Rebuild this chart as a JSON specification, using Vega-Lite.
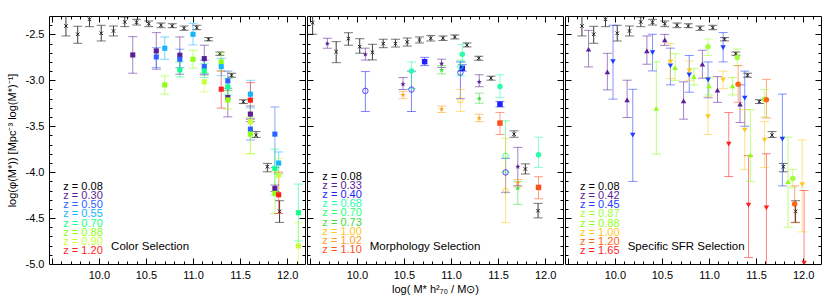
{
"$schema": "https://vega.github.io/schema/vega-lite/v6.json",
"padding": {"left": 5, "top": 15, "right": 5, "bottom": 0},
"background": "white",
"config": {
  "view": {"stroke": "#000", "strokeWidth": 1},
  "concat": {"spacing": 0},
  "font": "Liberation Sans",
  "axis": {"domain": false, "grid": false, "tickColor": "#000", "tickWidth": 1, "labelColor": "#000", "labelFont": "Liberation Sans", "labelFontSize": 11, "labelFlush": false, "labelOverlap": false, "titleFont": "Liberation Sans", "titleFontSize": 11, "titleFontWeight": "normal", "titleColor": "#000", "minExtent": 0}
},
"datasets": {
"ref": [
{"g":"A","x":9.65,"y":-2.409,"lo":-2.517,"hi":-2.29},
{"g":"A","x":9.775,"y":-2.499,"lo":-2.597,"hi":-2.412},
{"g":"A","x":9.9,"y":-2.336,"lo":-2.416,"hi":-2.29},
{"g":"A","x":10.025,"y":-2.488,"lo":-2.572,"hi":-2.401},
{"g":"A","x":10.155,"y":-2.463,"lo":-2.517,"hi":-2.409},
{"g":"A","x":10.275,"y":-2.365,"lo":-2.416,"hi":-2.311},
{"g":"A","x":10.4,"y":-2.368,"lo":-2.398,"hi":-2.336},
{"g":"A","x":10.53,"y":-2.384,"lo":-2.416,"hi":-2.354},
{"g":"A","x":10.66,"y":-2.401,"lo":-2.427,"hi":-2.376},
{"g":"A","x":10.78,"y":-2.409,"lo":-2.427,"hi":-2.384},
{"g":"A","x":10.905,"y":-2.434,"lo":-2.456,"hi":-2.409},
{"g":"A","x":11.04,"y":-2.427,"lo":-2.449,"hi":-2.401},
{"g":"A","x":11.165,"y":-2.553,"lo":-2.571,"hi":-2.535},
{"g":"A","x":11.285,"y":-2.71,"lo":-2.728,"hi":-2.692},
{"g":"A","x":11.41,"y":-2.945,"lo":-2.967,"hi":-2.923},
{"g":"A","x":11.535,"y":-3.232,"lo":-3.253,"hi":-3.212},
{"g":"A","x":11.67,"y":-3.597,"lo":-3.623,"hi":-3.558},
{"g":"A","x":11.79,"y":-3.941,"lo":-3.996,"hi":-3.905},
{"g":"A","x":11.92,"y":-4.427,"lo":-4.547,"hi":-4.311},
{"g":"B","x":9.53,"y":-2.373,"lo":-2.499,"hi":-2.29},
{"g":"B","x":9.78,"y":-2.688,"lo":-2.808,"hi":-2.579},
{"g":"B","x":9.91,"y":-2.547,"lo":-2.618,"hi":-2.482},
{"g":"B","x":10.03,"y":-2.634,"lo":-2.705,"hi":-2.547},
{"g":"B","x":10.165,"y":-2.695,"lo":-2.778,"hi":-2.608},
{"g":"B","x":10.28,"y":-2.601,"lo":-2.645,"hi":-2.553},
{"g":"B","x":10.41,"y":-2.601,"lo":-2.638,"hi":-2.553},
{"g":"B","x":10.535,"y":-2.583,"lo":-2.627,"hi":-2.54},
{"g":"B","x":10.665,"y":-2.561,"lo":-2.594,"hi":-2.528},
{"g":"B","x":10.785,"y":-2.542,"lo":-2.572,"hi":-2.513},
{"g":"B","x":10.915,"y":-2.542,"lo":-2.567,"hi":-2.517},
{"g":"B","x":11.04,"y":-2.528,"lo":-2.55,"hi":-2.506},
{"g":"B","x":11.17,"y":-2.615,"lo":-2.637,"hi":-2.593},
{"g":"B","x":11.295,"y":-2.76,"lo":-2.782,"hi":-2.738},
{"g":"B","x":11.425,"y":-2.977,"lo":-2.999,"hi":-2.955},
{"g":"B","x":11.67,"y":-3.586,"lo":-3.62,"hi":-3.55},
{"g":"B","x":11.79,"y":-3.966,"lo":-4.02,"hi":-3.91},
{"g":"B","x":11.925,"y":-4.42,"lo":-4.498,"hi":-4.34}
],
"pts": [
{"p":1,"s":"1:0.30","m":"sq","x":10.36,"y":-2.724,"lo":-2.923,"hi":-2.525},
{"p":1,"s":"1:0.30","m":"sq","x":10.61,"y":-2.68,"lo":-2.879,"hi":-2.481},
{"p":1,"s":"1:0.50","m":"sq","x":10.61,"y":-2.746,"lo":-2.862,"hi":-2.645},
{"p":1,"s":"1:0.55","m":"sq","x":10.7,"y":-2.651,"lo":-2.771,"hi":-2.528},
{"p":1,"s":"1:0.88","m":"sq","x":10.7,"y":-3.05,"lo":-3.151,"hi":-2.952},
{"p":1,"s":"1:0.30","m":"sq","x":10.86,"y":-2.727,"lo":-2.934,"hi":-2.528},
{"p":1,"s":"1:0.50","m":"sq","x":10.86,"y":-2.771,"lo":-2.862,"hi":-2.662},
{"p":1,"s":"1:0.70","m":"sq","x":10.86,"y":-2.887,"lo":-2.963,"hi":-2.8},
{"p":1,"s":"1:0.55","m":"sq","x":11.0,"y":-2.499,"lo":-2.615,"hi":-2.379},
{"p":1,"s":"1:0.88","m":"sq","x":11.0,"y":-2.771,"lo":-2.868,"hi":-2.673},
{"p":1,"s":"1:0.30","m":"sq","x":11.12,"y":-2.764,"lo":-2.941,"hi":-2.618},
{"p":1,"s":"1:0.50","m":"sq","x":11.12,"y":-2.851,"lo":-2.93,"hi":-2.78},
{"p":1,"s":"1:0.70","m":"sq","x":11.12,"y":-2.898,"lo":-2.97,"hi":-2.82},
{"p":1,"s":"1:0.90","m":"sq","x":11.12,"y":-3.017,"lo":-3.126,"hi":-2.916},
{"p":1,"s":"1:0.88","m":"sq","x":11.3,"y":-2.8,"lo":-2.9,"hi":-2.7},
{"p":1,"s":"1:0.55","m":"sq","x":11.3,"y":-2.851,"lo":-2.95,"hi":-2.76},
{"p":1,"s":"1:1.20","m":"sq","x":11.3,"y":-3.097,"lo":-3.303,"hi":-2.898},
{"p":1,"s":"1:0.50","m":"sq","x":11.37,"y":-3.007,"lo":-3.11,"hi":-2.9},
{"p":1,"s":"1:0.70","m":"sq","x":11.37,"y":-3.072,"lo":-3.16,"hi":-2.98},
{"p":1,"s":"1:0.30","m":"sq","x":11.37,"y":-3.188,"lo":-3.398,"hi":-3.086},
{"p":1,"s":"1:0.88","m":"sq","x":11.37,"y":-3.213,"lo":-3.314,"hi":-3.115},
{"p":1,"s":"1:0.55","m":"sq","x":11.61,"y":-3.151,"lo":-3.3,"hi":-3.0},
{"p":1,"s":"1:1.20","m":"sq","x":11.61,"y":-3.216,"lo":-3.423,"hi":-3.025},
{"p":1,"s":"1:0.30","m":"sq","x":11.61,"y":-3.368,"lo":-3.45,"hi":-3.28},
{"p":1,"s":"1:0.50","m":"sq","x":11.61,"y":-3.532,"lo":-3.65,"hi":-3.42},
{"p":1,"s":"1:0.88","m":"sq","x":11.61,"y":-3.586,"lo":-3.8,"hi":-3.4},
{"p":1,"s":"1:0.90","m":"sq","x":11.61,"y":-3.45,"lo":-3.8,"hi":-3.2},
{"p":1,"s":"1:0.50","m":"sq","x":11.87,"y":-3.586,"lo":-3.95,"hi":-3.29},
{"p":1,"s":"1:0.70","m":"sq","x":11.87,"y":-3.96,"lo":-4.25,"hi":-3.75},
{"p":1,"s":"1:0.55","m":"sq","x":11.91,"y":-3.901,"lo":-4.02,"hi":-3.78},
{"p":1,"s":"1:0.30","m":"sq","x":11.87,"y":-4.177,"lo":-4.21,"hi":-4.14},
{"p":1,"s":"1:0.88","m":"sq","x":11.87,"y":-4.231,"lo":-4.45,"hi":-4.0},
{"p":1,"s":"1:1.20","m":"sq","x":11.91,"y":-4.246,"lo":-4.45,"hi":-4.0},
{"p":1,"s":"1:0.90","m":"sq","x":11.91,"y":-4.032,"lo":-4.25,"hi":-3.85},
{"p":1,"s":"1:0.70","m":"sq","x":12.12,"y":-4.441,"lo":-4.75,"hi":-4.13},
{"p":1,"s":"1:0.90","m":"sq","x":12.12,"y":-4.803,"lo":-5.1,"hi":-4.55},
{"p":2,"s":"2:0.33","m":"st","x":9.686,"y":-2.601,"lo":-2.651,"hi":-2.542},
{"p":2,"s":"2:0.33","m":"st","x":10.09,"y":-2.717,"lo":-2.78,"hi":-2.65},
{"p":2,"s":"2:0.33","m":"st","x":10.49,"y":-3.043,"lo":-3.1,"hi":-2.97},
{"p":2,"s":"2:0.33","m":"st","x":10.9,"y":-2.818,"lo":-2.86,"hi":-2.77},
{"p":2,"s":"2:0.33","m":"st","x":11.3,"y":-3.017,"lo":-3.07,"hi":-2.94},
{"p":2,"s":"2:0.33","m":"st","x":11.71,"y":-3.941,"lo":-4.148,"hi":-3.73},
{"p":2,"s":"2:1.02","m":"st","x":10.49,"y":-3.159,"lo":-3.2,"hi":-3.12},
{"p":2,"s":"2:1.02","m":"st","x":10.9,"y":-3.314,"lo":-3.35,"hi":-3.28},
{"p":2,"s":"2:1.02","m":"st","x":11.3,"y":-3.412,"lo":-3.45,"hi":-3.37},
{"p":2,"s":"2:1.02","m":"st","x":11.71,"y":-4.118,"lo":-4.16,"hi":-4.08},
{"p":2,"s":"2:0.73","m":"st","x":10.9,"y":-2.887,"lo":-2.93,"hi":-2.84},
{"p":2,"s":"2:0.73","m":"st","x":11.3,"y":-3.199,"lo":-3.25,"hi":-3.14},
{"p":2,"s":"2:0.73","m":"st","x":11.71,"y":-4.177,"lo":-4.35,"hi":-4.1},
{"p":2,"s":"2:0.40","m":"sq","x":10.72,"y":-2.797,"lo":-2.84,"hi":-2.75},
{"p":2,"s":"2:0.40","m":"sq","x":11.12,"y":-2.869,"lo":-2.9,"hi":-2.83},
{"p":2,"s":"2:0.40","m":"sq","x":11.52,"y":-3.26,"lo":-3.29,"hi":-3.23},
{"p":2,"s":"2:0.40","m":"oc","x":10.09,"y":-3.115,"lo":-3.34,"hi":-2.905},
{"p":2,"s":"2:0.40","m":"oc","x":10.58,"y":-3.101,"lo":-3.34,"hi":-2.9},
{"p":2,"s":"2:0.40","m":"oc","x":11.1,"y":-2.916,"lo":-3.2,"hi":-2.8},
{"p":2,"s":"2:0.40","m":"oc","x":11.58,"y":-4.003,"lo":-4.22,"hi":-3.85},
{"p":2,"s":"2:0.68","m":"ci","x":10.58,"y":-2.898,"lo":-3.09,"hi":-2.8},
{"p":2,"s":"2:0.68","m":"ci","x":11.12,"y":-2.717,"lo":-2.8,"hi":-2.61},
{"p":2,"s":"2:0.68","m":"ci","x":11.52,"y":-3.068,"lo":-3.19,"hi":-2.94},
{"p":2,"s":"2:0.68","m":"ci","x":11.93,"y":-3.811,"lo":-3.95,"hi":-3.62},
{"p":2,"s":"2:0.70","m":"oc","x":11.1,"y":-2.851,"lo":-2.95,"hi":-2.78},
{"p":2,"s":"2:0.70","m":"oc","x":11.58,"y":-3.822,"lo":-4.0,"hi":-3.44},
{"p":2,"s":"2:1.00","m":"oc","x":11.1,"y":-3.216,"lo":-3.34,"hi":-3.1},
{"p":2,"s":"2:1.00","m":"oc","x":11.58,"y":-4.202,"lo":-4.55,"hi":-3.63},
{"p":2,"s":"2:1.10","m":"sq","x":11.52,"y":-3.466,"lo":-3.59,"hi":-3.35},
{"p":2,"s":"2:1.10","m":"sq","x":11.93,"y":-4.166,"lo":-4.29,"hi":-4.05},
{"p":3,"s":"3:0.42","m":"tu","x":9.72,"y":-2.662,"lo":-2.854,"hi":-2.456},
{"p":3,"s":"3:0.42","m":"tu","x":9.92,"y":-2.909,"lo":-3.104,"hi":-2.706},
{"p":3,"s":"3:0.42","m":"tu","x":10.13,"y":-3.213,"lo":-3.405,"hi":-2.999},
{"p":3,"s":"3:0.42","m":"tu","x":10.34,"y":-2.68,"lo":-2.825,"hi":-2.517},
{"p":3,"s":"3:0.42","m":"tu","x":10.53,"y":-2.561,"lo":-2.62,"hi":-2.5},
{"p":3,"s":"3:0.42","m":"tu","x":10.73,"y":-3.224,"lo":-3.423,"hi":-3.017},
{"p":3,"s":"3:0.42","m":"tu","x":10.93,"y":-2.825,"lo":-2.977,"hi":-2.673},
{"p":3,"s":"3:0.42","m":"tu","x":11.09,"y":-3.108,"lo":-3.24,"hi":-2.96},
{"p":3,"s":"3:0.42","m":"tu","x":11.33,"y":-3.26,"lo":-3.46,"hi":-3.05},
{"p":3,"s":"3:0.45","m":"td","x":9.98,"y":-2.797,"lo":-3.205,"hi":-2.401},
{"p":3,"s":"3:0.45","m":"td","x":10.19,"y":-3.597,"lo":-4.101,"hi":-3.098},
{"p":3,"s":"3:0.45","m":"td","x":10.4,"y":-2.699,"lo":-2.898,"hi":-2.499},
{"p":3,"s":"3:0.45","m":"td","x":10.59,"y":-2.843,"lo":-3.05,"hi":-2.65},
{"p":3,"s":"3:0.45","m":"td","x":10.79,"y":-2.941,"lo":-3.13,"hi":-2.73},
{"p":3,"s":"3:0.45","m":"td","x":10.99,"y":-2.996,"lo":-3.19,"hi":-2.8},
{"p":3,"s":"3:0.45","m":"td","x":11.15,"y":-2.645,"lo":-2.8,"hi":-2.48},
{"p":3,"s":"3:0.45","m":"td","x":11.38,"y":-3.195,"lo":-3.5,"hi":-2.9},
{"p":3,"s":"3:0.45","m":"td","x":11.78,"y":-3.64,"lo":-4.15,"hi":-3.15},
{"p":3,"s":"3:0.88","m":"tu","x":10.44,"y":-3.307,"lo":-3.803,"hi":-2.8},
{"p":3,"s":"3:0.88","m":"tu","x":10.64,"y":-2.862,"lo":-3.0,"hi":-2.71},
{"p":3,"s":"3:0.88","m":"tu","x":10.84,"y":-2.96,"lo":-3.05,"hi":-2.87},
{"p":3,"s":"3:0.88","m":"tu","x":11.0,"y":-3.061,"lo":-3.16,"hi":-2.97},
{"p":3,"s":"3:0.88","m":"tu","x":11.25,"y":-3.061,"lo":-3.16,"hi":-2.97},
{"p":3,"s":"3:0.88","m":"tu","x":11.44,"y":-3.811,"lo":-4.1,"hi":-3.32},
{"p":3,"s":"3:0.88","m":"tu","x":11.84,"y":-4.104,"lo":-4.6,"hi":-3.62},
{"p":3,"s":"3:0.87","m":"ci","x":10.99,"y":-2.634,"lo":-2.73,"hi":-2.55},
{"p":3,"s":"3:0.87","m":"ci","x":11.3,"y":-2.753,"lo":-2.84,"hi":-2.66},
{"p":3,"s":"3:0.87","m":"ci","x":11.59,"y":-3.206,"lo":-3.4,"hi":-3.1},
{"p":3,"s":"3:0.87","m":"ci","x":11.89,"y":-4.068,"lo":-4.17,"hi":-3.97},
{"p":3,"s":"3:1.00","m":"td","x":10.59,"y":-2.8,"lo":-2.98,"hi":-2.6},
{"p":3,"s":"3:1.00","m":"td","x":10.79,"y":-2.898,"lo":-3.0,"hi":-2.79},
{"p":3,"s":"3:1.00","m":"td","x":10.99,"y":-3.395,"lo":-3.59,"hi":-3.18},
{"p":3,"s":"3:1.00","m":"td","x":11.15,"y":-2.996,"lo":-3.09,"hi":-2.9},
{"p":3,"s":"3:1.00","m":"td","x":11.38,"y":-3.543,"lo":-3.97,"hi":-3.32},
{"p":3,"s":"3:1.00","m":"td","x":11.59,"y":-3.651,"lo":-3.95,"hi":-3.45},
{"p":3,"s":"3:1.00","m":"td","x":11.99,"y":-4.137,"lo":-4.65,"hi":-3.65},
{"p":3,"s":"3:1.20","m":"ci","x":11.31,"y":-3.043,"lo":-3.24,"hi":-2.84},
{"p":3,"s":"3:1.20","m":"ci","x":11.61,"y":-3.213,"lo":-3.41,"hi":-2.99},
{"p":3,"s":"3:1.20","m":"ci","x":11.91,"y":-4.347,"lo":-4.55,"hi":-4.15},
{"p":3,"s":"3:1.65","m":"td","x":11.21,"y":-3.695,"lo":-4.047,"hi":-3.351},
{"p":3,"s":"3:1.65","m":"td","x":11.42,"y":-4.358,"lo":-4.93,"hi":-3.82},
{"p":3,"s":"3:1.65","m":"td","x":11.61,"y":-4.39,"lo":-5.1,"hi":-3.8},
{"p":3,"s":"3:1.65","m":"td","x":12.01,"y":-4.99,"lo":-5.1,"hi":-4.2}
],
"leg": [
{"p":1,"s":"1:0.08","t":"z = 0.08","x":9.622,"y":-4.16},
{"p":1,"s":"1:0.30","t":"z = 0.30","x":9.622,"y":-4.26},
{"p":1,"s":"1:0.50","t":"z = 0.50","x":9.622,"y":-4.36},
{"p":1,"s":"1:0.55","t":"z = 0.55","x":9.622,"y":-4.46},
{"p":1,"s":"1:0.70","t":"z = 0.70","x":9.622,"y":-4.56},
{"p":1,"s":"1:0.88","t":"z = 0.88","x":9.622,"y":-4.66},
{"p":1,"s":"1:0.90","t":"z = 0.90","x":9.622,"y":-4.76},
{"p":1,"s":"1:1.20","t":"z = 1.20","x":9.622,"y":-4.86},
{"p":2,"s":"2:0.08","t":"z = 0.08","x":9.633,"y":-4.05},
{"p":2,"s":"2:0.33","t":"z = 0.33","x":9.633,"y":-4.15},
{"p":2,"s":"2:0.40","t":"z = 0.40","x":9.633,"y":-4.25},
{"p":2,"s":"2:0.68","t":"z = 0.68","x":9.633,"y":-4.35},
{"p":2,"s":"2:0.70","t":"z = 0.70","x":9.633,"y":-4.45},
{"p":2,"s":"2:0.73","t":"z = 0.73","x":9.633,"y":-4.55},
{"p":2,"s":"2:1.00","t":"z = 1.00","x":9.633,"y":-4.65},
{"p":2,"s":"2:1.02","t":"z = 1.02","x":9.633,"y":-4.75},
{"p":2,"s":"2:1.10","t":"z = 1.10","x":9.633,"y":-4.85},
{"p":3,"s":"3:0.08","t":"z = 0.08","x":9.63,"y":-4.16},
{"p":3,"s":"3:0.42","t":"z = 0.42","x":9.63,"y":-4.26},
{"p":3,"s":"3:0.45","t":"z = 0.45","x":9.63,"y":-4.36},
{"p":3,"s":"3:0.87","t":"z = 0.87","x":9.63,"y":-4.46},
{"p":3,"s":"3:0.88","t":"z = 0.88","x":9.63,"y":-4.56},
{"p":3,"s":"3:1.00","t":"z = 1.00","x":9.63,"y":-4.66},
{"p":3,"s":"3:1.20","t":"z = 1.20","x":9.63,"y":-4.76},
{"p":3,"s":"3:1.65","t":"z = 1.65","x":9.63,"y":-4.86}
],
"ttl": [
{"p":1,"t":"Color Selection","x":10.13,"y":-4.818},
{"p":2,"t":"Morphology Selection","x":10.137,"y":-4.818},
{"p":3,"t":"Specific SFR Selection","x":10.136,"y":-4.818}
]
},
"hconcat": [
{
 "width": 256, "height": 248,
 "resolve": {"axis": {"x": "independent", "y": "independent"}},
 "layer": [
  {"data": {"name": "ref"}, "transform": [{"filter": "datum.g == 'A'"}],
   "mark": {"type": "rule", "color": "#3c3c3c", "strokeWidth": 1, "clip": true},
   "encoding": {
    "x": {"field": "x", "type": "quantitative", "scale": {"domain": [9.47, 12.19], "nice": false, "zero": false},
     "axis": {"orient": "bottom", "values": [10, 10.5, 11, 11.5, 12], "format": ".1f", "ticks": false, "labelPadding": 5, "title": null}},
    "y": {"field": "lo", "type": "quantitative", "scale": {"domain": [-5.0, -2.3], "nice": false, "zero": false},
     "axis": {"orient": "left", "values": [-5, -4.5, -4, -3.5, -3, -2.5], "labelExpr": "replace(format(datum.value,'.1f'),'\u2212','-')", "ticks": false, "labelPadding": 5, "title": "log(\u03c6(M*))  [Mpc\u207b\u00b3 log(M*)\u207b\u00b9]", "titlePadding": 8}},
    "y2": {"field": "hi"}
   }},
  {"data": {"name": "ref"}, "transform": [{"filter": "datum.g == 'A'"}],
   "mark": {"type": "tick", "orient": "horizontal", "size": 9, "thickness": 1, "color": "#3c3c3c", "clip": true},
   "encoding": {
    "x": {"field": "x", "type": "quantitative", "scale": {"domain": [9.47, 12.19], "nice": false, "zero": false},
     "axis": {"orient": "bottom", "values": [9.5, 10, 10.5, 11, 11.5, 12], "labels": false, "tickSize": -6, "title": null}},
    "y": {"field": "lo", "type": "quantitative", "scale": {"domain": [-5.0, -2.3], "nice": false, "zero": false},
     "axis": {"orient": "left", "values": [-4.5, -4, -3.5, -3, -2.5], "labels": false, "tickSize": -6, "title": null}}
   }},
  {"data": {"name": "ref"}, "transform": [{"filter": "datum.g == 'A'"}],
   "mark": {"type": "tick", "orient": "horizontal", "size": 9, "thickness": 1, "color": "#3c3c3c", "clip": true},
   "encoding": {
    "x": {"field": "x", "type": "quantitative", "scale": {"domain": [9.47, 12.19], "nice": false, "zero": false},
     "axis": {"orient": "bottom", "values": [9.6,9.7,9.8,9.9,10.1,10.2,10.3,10.4,10.6,10.7,10.8,10.9,11.1,11.2,11.3,11.4,11.6,11.7,11.8,11.9,12.1], "labels": false, "tickSize": -3, "title": null}},
    "y": {"field": "hi", "type": "quantitative", "scale": {"domain": [-5.0, -2.3], "nice": false, "zero": false},
     "axis": {"orient": "left", "values": [-4.9,-4.8,-4.7,-4.6,-4.4,-4.3,-4.2,-4.1,-3.9,-3.8,-3.7,-3.6,-3.4,-3.3,-3.2,-3.1,-2.9,-2.8,-2.7,-2.6,-2.4], "labels": false, "tickSize": -3, "title": null}}
   }},
  {"data": {"name": "ref"}, "transform": [{"filter": "datum.g == 'A'"}],
   "mark": {"type": "point", "shape": "M-1,-1L1,1M-1,1L1,-1", "filled": false, "size": 12, "strokeWidth": 1, "color": "#202020", "opacity": 1, "clip": true},
   "encoding": {
    "x": {"field": "x", "type": "quantitative", "scale": {"domain": [9.47, 12.19], "nice": false, "zero": false},
     "axis": {"orient": "top", "values": [9.5, 10, 10.5, 11, 11.5, 12], "labels": false, "tickSize": -6, "title": null}},
    "y": {"field": "y", "type": "quantitative", "scale": {"domain": [-5.0, -2.3], "nice": false, "zero": false},
     "axis": {"orient": "right", "values": [-4.5, -4, -3.5, -3, -2.5], "labels": false, "tickSize": -6, "title": null}}
   }},
  {"data": {"name": "pts"}, "transform": [{"filter": "datum.p == 1"}],
   "encoding": {
    "x": {"field": "x", "type": "quantitative", "scale": {"domain": [9.47, 12.19], "nice": false, "zero": false}, "axis": null},
    "color": {"field": "s", "type": "nominal", "legend": null, "scale": {"domain": ["1:0.08","1:0.30","1:0.50","1:0.55","1:0.70","1:0.88","1:0.90","1:1.20","2:0.08","2:0.33","2:0.40","2:0.68","2:0.70","2:0.73","2:1.00","2:1.02","2:1.10","3:0.08","3:0.42","3:0.45","3:0.87","3:0.88","3:1.00","3:1.20","3:1.65"], "range": ["#000000","#5a1e96","#2864ff","#14b4ff","#14ff8c","#8cff14","#c8ff3c","#ff1e1e","#000000","#5a1e96","#1e1eff","#28ffaa","#28ff78","#3cdc3c","#ffc81e","#ffa01e","#ff501e","#000000","#5a1e96","#1e3cff","#a0ff3c","#8cff14","#ffc81e","#ff6414","#ff1e1e"]}}
   },
   "layer": [
    {"mark": {"type": "rule", "opacity": 0.55, "strokeWidth": 1, "clip": true},
     "encoding": {"y": {"field": "lo", "type": "quantitative", "scale": {"domain": [-5.0, -2.3], "nice": false, "zero": false}, "axis": null}, "y2": {"field": "hi"}}},
    {"mark": {"type": "tick", "orient": "horizontal", "size": 9, "thickness": 1, "opacity": 0.55, "clip": true},
     "encoding": {"y": {"field": "lo", "type": "quantitative", "scale": {"domain": [-5.0, -2.3], "nice": false, "zero": false}, "axis": null}}},
    {"mark": {"type": "tick", "orient": "horizontal", "size": 9, "thickness": 1, "opacity": 0.55, "clip": true},
     "encoding": {"y": {"field": "hi", "type": "quantitative", "scale": {"domain": [-5.0, -2.3], "nice": false, "zero": false}, "axis": null}}},
    {"transform": [{"filter": "datum.m != 'oc'"}],
     "mark": {"type": "point", "filled": true, "opacity": 1, "size": 26, "clip": true},
     "encoding": {"y": {"field": "y", "type": "quantitative", "scale": {"domain": [-5.0, -2.3], "nice": false, "zero": false}, "axis": null},
      "shape": {"field": "m", "type": "nominal", "legend": null, "scale": {"domain": ["sq","st","ci","oc","tu","td"], "range": ["square","M0,-1L0.235,-0.324L0.951,-0.309L0.38,0.124L0.588,0.809L0,0.4L-0.588,0.809L-0.38,0.124L-0.951,-0.309L-0.235,-0.324Z","circle","circle","triangle-up","triangle-down"]}}}}
   ]},
  {"data": {"name": "leg"}, "transform": [{"filter": "datum.p == 1"}],
   "mark": {"type": "text", "align": "left", "baseline": "middle", "fontSize": 11, "font": "Liberation Sans"},
   "encoding": {
    "x": {"field": "x", "type": "quantitative", "scale": {"domain": [9.47, 12.19], "nice": false, "zero": false},
     "axis": {"orient": "top", "values": [9.6,9.7,9.8,9.9,10.1,10.2,10.3,10.4,10.6,10.7,10.8,10.9,11.1,11.2,11.3,11.4,11.6,11.7,11.8,11.9,12.1], "labels": false, "tickSize": -3, "title": null}},
    "y": {"field": "y", "type": "quantitative", "scale": {"domain": [-5.0, -2.3], "nice": false, "zero": false},
     "axis": {"orient": "right", "values": [-4.9,-4.8,-4.7,-4.6,-4.4,-4.3,-4.2,-4.1,-3.9,-3.8,-3.7,-3.6,-3.4,-3.3,-3.2,-3.1,-2.9,-2.8,-2.7,-2.6,-2.4], "labels": false, "tickSize": -3, "title": null}},
    "text": {"field": "t"},
    "color": {"field": "s", "type": "nominal", "legend": null, "scale": {"domain": ["1:0.08","1:0.30","1:0.50","1:0.55","1:0.70","1:0.88","1:0.90","1:1.20","2:0.08","2:0.33","2:0.40","2:0.68","2:0.70","2:0.73","2:1.00","2:1.02","2:1.10","3:0.08","3:0.42","3:0.45","3:0.87","3:0.88","3:1.00","3:1.20","3:1.65"], "range": ["#000000","#5a1e96","#2864ff","#14b4ff","#14ff8c","#8cff14","#c8ff3c","#ff1e1e","#000000","#5a1e96","#1e1eff","#28ffaa","#28ff78","#3cdc3c","#ffc81e","#ffa01e","#ff501e","#000000","#5a1e96","#1e3cff","#a0ff3c","#8cff14","#ffc81e","#ff6414","#ff1e1e"]}}
   }},
  {"data": {"name": "ttl"}, "transform": [{"filter": "datum.p == 1"}],
   "mark": {"type": "text", "align": "left", "baseline": "middle", "fontSize": 11.5, "font": "Liberation Sans", "color": "#000"},
   "encoding": {
    "x": {"field": "x", "type": "quantitative", "scale": {"domain": [9.47, 12.19], "nice": false, "zero": false}, "axis": null},
    "y": {"field": "y", "type": "quantitative", "scale": {"domain": [-5.0, -2.3], "nice": false, "zero": false}, "axis": null},
    "text": {"field": "t"}
   }}
 ]
},
{
 "width": 256, "height": 248,
 "resolve": {"axis": {"x": "independent", "y": "independent"}},
 "layer": [
  {"data": {"name": "ref"}, "transform": [{"filter": "datum.g == 'B'"}],
   "mark": {"type": "rule", "color": "#3c3c3c", "strokeWidth": 1, "clip": true},
   "encoding": {
    "x": {"field": "x", "type": "quantitative", "scale": {"domain": [9.47, 12.19], "nice": false, "zero": false},
     "axis": {"orient": "bottom", "values": [10, 10.5, 11, 11.5, 12], "format": ".1f", "ticks": false, "labelPadding": 5, "title": "log( M* h\u00b2\u2087\u2080 / M\u2299)", "titlePadding": 3}},
    "y": {"field": "lo", "type": "quantitative", "scale": {"domain": [-5.0, -2.3], "nice": false, "zero": false}, "axis": null},
    "y2": {"field": "hi"}
   }},
  {"data": {"name": "ref"}, "transform": [{"filter": "datum.g == 'B'"}],
   "mark": {"type": "tick", "orient": "horizontal", "size": 9, "thickness": 1, "color": "#3c3c3c", "clip": true},
   "encoding": {
    "x": {"field": "x", "type": "quantitative", "scale": {"domain": [9.47, 12.19], "nice": false, "zero": false},
     "axis": {"orient": "bottom", "values": [9.5, 10, 10.5, 11, 11.5, 12], "labels": false, "tickSize": -6, "title": null}},
    "y": {"field": "lo", "type": "quantitative", "scale": {"domain": [-5.0, -2.3], "nice": false, "zero": false},
     "axis": {"orient": "left", "values": [-4.5, -4, -3.5, -3, -2.5], "labels": false, "tickSize": -6, "title": null}}
   }},
  {"data": {"name": "ref"}, "transform": [{"filter": "datum.g == 'B'"}],
   "mark": {"type": "tick", "orient": "horizontal", "size": 9, "thickness": 1, "color": "#3c3c3c", "clip": true},
   "encoding": {
    "x": {"field": "x", "type": "quantitative", "scale": {"domain": [9.47, 12.19], "nice": false, "zero": false},
     "axis": {"orient": "bottom", "values": [9.6,9.7,9.8,9.9,10.1,10.2,10.3,10.4,10.6,10.7,10.8,10.9,11.1,11.2,11.3,11.4,11.6,11.7,11.8,11.9,12.1], "labels": false, "tickSize": -3, "title": null}},
    "y": {"field": "hi", "type": "quantitative", "scale": {"domain": [-5.0, -2.3], "nice": false, "zero": false},
     "axis": {"orient": "left", "values": [-4.9,-4.8,-4.7,-4.6,-4.4,-4.3,-4.2,-4.1,-3.9,-3.8,-3.7,-3.6,-3.4,-3.3,-3.2,-3.1,-2.9,-2.8,-2.7,-2.6,-2.4], "labels": false, "tickSize": -3, "title": null}}
   }},
  {"data": {"name": "ref"}, "transform": [{"filter": "datum.g == 'B'"}],
   "mark": {"type": "point", "shape": "M-1,-1L1,1M-1,1L1,-1", "filled": false, "size": 12, "strokeWidth": 1, "color": "#202020", "opacity": 1, "clip": true},
   "encoding": {
    "x": {"field": "x", "type": "quantitative", "scale": {"domain": [9.47, 12.19], "nice": false, "zero": false},
     "axis": {"orient": "top", "values": [9.5, 10, 10.5, 11, 11.5, 12], "labels": false, "tickSize": -6, "title": null}},
    "y": {"field": "y", "type": "quantitative", "scale": {"domain": [-5.0, -2.3], "nice": false, "zero": false},
     "axis": {"orient": "right", "values": [-4.5, -4, -3.5, -3, -2.5], "labels": false, "tickSize": -6, "title": null}}
   }},
  {"data": {"name": "pts"}, "transform": [{"filter": "datum.p == 2"}],
   "encoding": {
    "x": {"field": "x", "type": "quantitative", "scale": {"domain": [9.47, 12.19], "nice": false, "zero": false}, "axis": null},
    "color": {"field": "s", "type": "nominal", "legend": null, "scale": {"domain": ["1:0.08","1:0.30","1:0.50","1:0.55","1:0.70","1:0.88","1:0.90","1:1.20","2:0.08","2:0.33","2:0.40","2:0.68","2:0.70","2:0.73","2:1.00","2:1.02","2:1.10","3:0.08","3:0.42","3:0.45","3:0.87","3:0.88","3:1.00","3:1.20","3:1.65"], "range": ["#000000","#5a1e96","#2864ff","#14b4ff","#14ff8c","#8cff14","#c8ff3c","#ff1e1e","#000000","#5a1e96","#1e1eff","#28ffaa","#28ff78","#3cdc3c","#ffc81e","#ffa01e","#ff501e","#000000","#5a1e96","#1e3cff","#a0ff3c","#8cff14","#ffc81e","#ff6414","#ff1e1e"]}}
   },
   "layer": [
    {"mark": {"type": "rule", "opacity": 0.55, "strokeWidth": 1, "clip": true},
     "encoding": {"y": {"field": "lo", "type": "quantitative", "scale": {"domain": [-5.0, -2.3], "nice": false, "zero": false}, "axis": null}, "y2": {"field": "hi"}}},
    {"mark": {"type": "tick", "orient": "horizontal", "size": 9, "thickness": 1, "opacity": 0.55, "clip": true},
     "encoding": {"y": {"field": "lo", "type": "quantitative", "scale": {"domain": [-5.0, -2.3], "nice": false, "zero": false}, "axis": null}}},
    {"mark": {"type": "tick", "orient": "horizontal", "size": 9, "thickness": 1, "opacity": 0.55, "clip": true},
     "encoding": {"y": {"field": "hi", "type": "quantitative", "scale": {"domain": [-5.0, -2.3], "nice": false, "zero": false}, "axis": null}}},
    {"transform": [{"filter": "datum.m != 'oc'"}],
     "mark": {"type": "point", "filled": true, "opacity": 1, "size": 30, "clip": true},
     "encoding": {"y": {"field": "y", "type": "quantitative", "scale": {"domain": [-5.0, -2.3], "nice": false, "zero": false}, "axis": null},
      "shape": {"field": "m", "type": "nominal", "legend": null, "scale": {"domain": ["sq","st","ci","oc","tu","td"], "range": ["square","M0,-1L0.235,-0.324L0.951,-0.309L0.38,0.124L0.588,0.809L0,0.4L-0.588,0.809L-0.38,0.124L-0.951,-0.309L-0.235,-0.324Z","circle","circle","triangle-up","triangle-down"]}}}},
    {"transform": [{"filter": "datum.m == 'oc'"}],
     "mark": {"type": "point", "filled": false, "opacity": 0.8, "size": 30, "strokeWidth": 1, "clip": true},
     "encoding": {"y": {"field": "y", "type": "quantitative", "scale": {"domain": [-5.0, -2.3], "nice": false, "zero": false}, "axis": null},
      "shape": {"field": "m", "type": "nominal", "legend": null, "scale": {"domain": ["sq","st","ci","oc","tu","td"], "range": ["square","M0,-1L0.235,-0.324L0.951,-0.309L0.38,0.124L0.588,0.809L0,0.4L-0.588,0.809L-0.38,0.124L-0.951,-0.309L-0.235,-0.324Z","circle","circle","triangle-up","triangle-down"]}}}}
   ]},
  {"data": {"name": "leg"}, "transform": [{"filter": "datum.p == 2"}],
   "mark": {"type": "text", "align": "left", "baseline": "middle", "fontSize": 11, "font": "Liberation Sans"},
   "encoding": {
    "x": {"field": "x", "type": "quantitative", "scale": {"domain": [9.47, 12.19], "nice": false, "zero": false},
     "axis": {"orient": "top", "values": [9.6,9.7,9.8,9.9,10.1,10.2,10.3,10.4,10.6,10.7,10.8,10.9,11.1,11.2,11.3,11.4,11.6,11.7,11.8,11.9,12.1], "labels": false, "tickSize": -3, "title": null}},
    "y": {"field": "y", "type": "quantitative", "scale": {"domain": [-5.0, -2.3], "nice": false, "zero": false},
     "axis": {"orient": "right", "values": [-4.9,-4.8,-4.7,-4.6,-4.4,-4.3,-4.2,-4.1,-3.9,-3.8,-3.7,-3.6,-3.4,-3.3,-3.2,-3.1,-2.9,-2.8,-2.7,-2.6,-2.4], "labels": false, "tickSize": -3, "title": null}},
    "text": {"field": "t"},
    "color": {"field": "s", "type": "nominal", "legend": null, "scale": {"domain": ["1:0.08","1:0.30","1:0.50","1:0.55","1:0.70","1:0.88","1:0.90","1:1.20","2:0.08","2:0.33","2:0.40","2:0.68","2:0.70","2:0.73","2:1.00","2:1.02","2:1.10","3:0.08","3:0.42","3:0.45","3:0.87","3:0.88","3:1.00","3:1.20","3:1.65"], "range": ["#000000","#5a1e96","#2864ff","#14b4ff","#14ff8c","#8cff14","#c8ff3c","#ff1e1e","#000000","#5a1e96","#1e1eff","#28ffaa","#28ff78","#3cdc3c","#ffc81e","#ffa01e","#ff501e","#000000","#5a1e96","#1e3cff","#a0ff3c","#8cff14","#ffc81e","#ff6414","#ff1e1e"]}}
   }},
  {"data": {"name": "ttl"}, "transform": [{"filter": "datum.p == 2"}],
   "mark": {"type": "text", "align": "left", "baseline": "middle", "fontSize": 11.5, "font": "Liberation Sans", "color": "#000"},
   "encoding": {
    "x": {"field": "x", "type": "quantitative", "scale": {"domain": [9.47, 12.19], "nice": false, "zero": false}, "axis": null},
    "y": {"field": "y", "type": "quantitative", "scale": {"domain": [-5.0, -2.3], "nice": false, "zero": false}, "axis": null},
    "text": {"field": "t"}
   }}
 ]
},
{
 "width": 256, "height": 248,
 "resolve": {"axis": {"x": "independent", "y": "independent"}},
 "layer": [
  {"data": {"name": "ref"}, "transform": [{"filter": "datum.g == 'A'"}],
   "mark": {"type": "rule", "color": "#3c3c3c", "strokeWidth": 1, "clip": true},
   "encoding": {
    "x": {"field": "x", "type": "quantitative", "scale": {"domain": [9.47, 12.19], "nice": false, "zero": false},
     "axis": {"orient": "bottom", "values": [10, 10.5, 11, 11.5, 12], "format": ".1f", "ticks": false, "labelPadding": 5, "title": null}},
    "y": {"field": "lo", "type": "quantitative", "scale": {"domain": [-5.0, -2.3], "nice": false, "zero": false}, "axis": null},
    "y2": {"field": "hi"}
   }},
  {"data": {"name": "ref"}, "transform": [{"filter": "datum.g == 'A'"}],
   "mark": {"type": "tick", "orient": "horizontal", "size": 9, "thickness": 1, "color": "#3c3c3c", "clip": true},
   "encoding": {
    "x": {"field": "x", "type": "quantitative", "scale": {"domain": [9.47, 12.19], "nice": false, "zero": false},
     "axis": {"orient": "bottom", "values": [9.5, 10, 10.5, 11, 11.5, 12], "labels": false, "tickSize": -6, "title": null}},
    "y": {"field": "lo", "type": "quantitative", "scale": {"domain": [-5.0, -2.3], "nice": false, "zero": false},
     "axis": {"orient": "left", "values": [-4.5, -4, -3.5, -3, -2.5], "labels": false, "tickSize": -6, "title": null}}
   }},
  {"data": {"name": "ref"}, "transform": [{"filter": "datum.g == 'A'"}],
   "mark": {"type": "tick", "orient": "horizontal", "size": 9, "thickness": 1, "color": "#3c3c3c", "clip": true},
   "encoding": {
    "x": {"field": "x", "type": "quantitative", "scale": {"domain": [9.47, 12.19], "nice": false, "zero": false},
     "axis": {"orient": "bottom", "values": [9.6,9.7,9.8,9.9,10.1,10.2,10.3,10.4,10.6,10.7,10.8,10.9,11.1,11.2,11.3,11.4,11.6,11.7,11.8,11.9,12.1], "labels": false, "tickSize": -3, "title": null}},
    "y": {"field": "hi", "type": "quantitative", "scale": {"domain": [-5.0, -2.3], "nice": false, "zero": false},
     "axis": {"orient": "left", "values": [-4.9,-4.8,-4.7,-4.6,-4.4,-4.3,-4.2,-4.1,-3.9,-3.8,-3.7,-3.6,-3.4,-3.3,-3.2,-3.1,-2.9,-2.8,-2.7,-2.6,-2.4], "labels": false, "tickSize": -3, "title": null}}
   }},
  {"data": {"name": "ref"}, "transform": [{"filter": "datum.g == 'A'"}],
   "mark": {"type": "point", "shape": "M-1,-1L1,1M-1,1L1,-1", "filled": false, "size": 12, "strokeWidth": 1, "color": "#202020", "opacity": 1, "clip": true},
   "encoding": {
    "x": {"field": "x", "type": "quantitative", "scale": {"domain": [9.47, 12.19], "nice": false, "zero": false},
     "axis": {"orient": "top", "values": [9.5, 10, 10.5, 11, 11.5, 12], "labels": false, "tickSize": -6, "title": null}},
    "y": {"field": "y", "type": "quantitative", "scale": {"domain": [-5.0, -2.3], "nice": false, "zero": false},
     "axis": {"orient": "right", "values": [-4.5, -4, -3.5, -3, -2.5], "labels": false, "tickSize": -6, "title": null}}
   }},
  {"data": {"name": "pts"}, "transform": [{"filter": "datum.p == 3"}],
   "encoding": {
    "x": {"field": "x", "type": "quantitative", "scale": {"domain": [9.47, 12.19], "nice": false, "zero": false}, "axis": null},
    "color": {"field": "s", "type": "nominal", "legend": null, "scale": {"domain": ["1:0.08","1:0.30","1:0.50","1:0.55","1:0.70","1:0.88","1:0.90","1:1.20","2:0.08","2:0.33","2:0.40","2:0.68","2:0.70","2:0.73","2:1.00","2:1.02","2:1.10","3:0.08","3:0.42","3:0.45","3:0.87","3:0.88","3:1.00","3:1.20","3:1.65"], "range": ["#000000","#5a1e96","#2864ff","#14b4ff","#14ff8c","#8cff14","#c8ff3c","#ff1e1e","#000000","#5a1e96","#1e1eff","#28ffaa","#28ff78","#3cdc3c","#ffc81e","#ffa01e","#ff501e","#000000","#5a1e96","#1e3cff","#a0ff3c","#8cff14","#ffc81e","#ff6414","#ff1e1e"]}}
   },
   "layer": [
    {"mark": {"type": "rule", "opacity": 0.55, "strokeWidth": 1, "clip": true},
     "encoding": {"y": {"field": "lo", "type": "quantitative", "scale": {"domain": [-5.0, -2.3], "nice": false, "zero": false}, "axis": null}, "y2": {"field": "hi"}}},
    {"mark": {"type": "tick", "orient": "horizontal", "size": 9, "thickness": 1, "opacity": 0.55, "clip": true},
     "encoding": {"y": {"field": "lo", "type": "quantitative", "scale": {"domain": [-5.0, -2.3], "nice": false, "zero": false}, "axis": null}}},
    {"mark": {"type": "tick", "orient": "horizontal", "size": 9, "thickness": 1, "opacity": 0.55, "clip": true},
     "encoding": {"y": {"field": "hi", "type": "quantitative", "scale": {"domain": [-5.0, -2.3], "nice": false, "zero": false}, "axis": null}}},
    {"transform": [{"filter": "datum.m != 'oc'"}],
     "mark": {"type": "point", "filled": true, "opacity": 1, "size": 30, "clip": true},
     "encoding": {"y": {"field": "y", "type": "quantitative", "scale": {"domain": [-5.0, -2.3], "nice": false, "zero": false}, "axis": null},
      "shape": {"field": "m", "type": "nominal", "legend": null, "scale": {"domain": ["sq","st","ci","oc","tu","td"], "range": ["square","M0,-1L0.235,-0.324L0.951,-0.309L0.38,0.124L0.588,0.809L0,0.4L-0.588,0.809L-0.38,0.124L-0.951,-0.309L-0.235,-0.324Z","circle","circle","triangle-up","triangle-down"]}}}}
   ]},
  {"data": {"name": "leg"}, "transform": [{"filter": "datum.p == 3"}],
   "mark": {"type": "text", "align": "left", "baseline": "middle", "fontSize": 11, "font": "Liberation Sans"},
   "encoding": {
    "x": {"field": "x", "type": "quantitative", "scale": {"domain": [9.47, 12.19], "nice": false, "zero": false},
     "axis": {"orient": "top", "values": [9.6,9.7,9.8,9.9,10.1,10.2,10.3,10.4,10.6,10.7,10.8,10.9,11.1,11.2,11.3,11.4,11.6,11.7,11.8,11.9,12.1], "labels": false, "tickSize": -3, "title": null}},
    "y": {"field": "y", "type": "quantitative", "scale": {"domain": [-5.0, -2.3], "nice": false, "zero": false},
     "axis": {"orient": "right", "values": [-4.9,-4.8,-4.7,-4.6,-4.4,-4.3,-4.2,-4.1,-3.9,-3.8,-3.7,-3.6,-3.4,-3.3,-3.2,-3.1,-2.9,-2.8,-2.7,-2.6,-2.4], "labels": false, "tickSize": -3, "title": null}},
    "text": {"field": "t"},
    "color": {"field": "s", "type": "nominal", "legend": null, "scale": {"domain": ["1:0.08","1:0.30","1:0.50","1:0.55","1:0.70","1:0.88","1:0.90","1:1.20","2:0.08","2:0.33","2:0.40","2:0.68","2:0.70","2:0.73","2:1.00","2:1.02","2:1.10","3:0.08","3:0.42","3:0.45","3:0.87","3:0.88","3:1.00","3:1.20","3:1.65"], "range": ["#000000","#5a1e96","#2864ff","#14b4ff","#14ff8c","#8cff14","#c8ff3c","#ff1e1e","#000000","#5a1e96","#1e1eff","#28ffaa","#28ff78","#3cdc3c","#ffc81e","#ffa01e","#ff501e","#000000","#5a1e96","#1e3cff","#a0ff3c","#8cff14","#ffc81e","#ff6414","#ff1e1e"]}}
   }},
  {"data": {"name": "ttl"}, "transform": [{"filter": "datum.p == 3"}],
   "mark": {"type": "text", "align": "left", "baseline": "middle", "fontSize": 11.5, "font": "Liberation Sans", "color": "#000"},
   "encoding": {
    "x": {"field": "x", "type": "quantitative", "scale": {"domain": [9.47, 12.19], "nice": false, "zero": false}, "axis": null},
    "y": {"field": "y", "type": "quantitative", "scale": {"domain": [-5.0, -2.3], "nice": false, "zero": false}, "axis": null},
    "text": {"field": "t"}
   }}
 ]
}
]
}
